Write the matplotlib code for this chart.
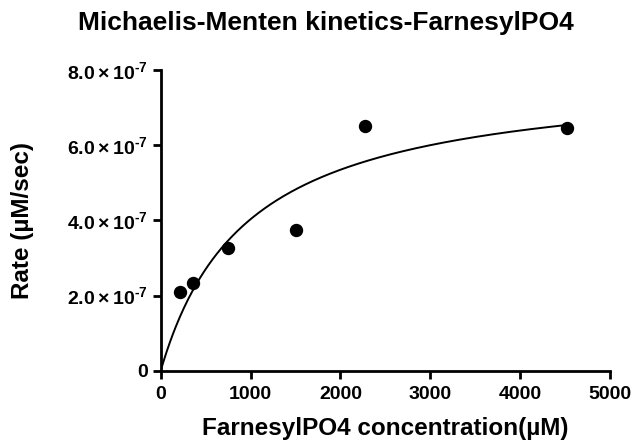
import numpy as np
import matplotlib
matplotlib.use("Agg")
import matplotlib.pyplot as plt
from matplotlib.ticker import FixedLocator, FuncFormatter

plt.rcParams['font.family'] = ['Liberation Sans', 'DejaVu Sans']
plt.rcParams['font.weight'] = 'bold'
plt.rcParams['mathtext.fontset'] = 'custom'
plt.rcParams['mathtext.rm'] = 'Liberation Sans:bold'
plt.rcParams['mathtext.it'] = 'Liberation Sans:bold'
plt.rcParams['mathtext.bf'] = 'Liberation Sans:bold'

# measured points
conc = [215, 363, 745, 1502, 2273, 4525]
rate = [2.085e-7, 2.34e-7, 3.255e-7, 3.74e-7, 6.5e-7, 6.455e-7]

# fitted Michaelis-Menten parameters
VMAX = 7.94e-7
KM = 970.0

xticks = [0, 1000, 2000, 3000, 4000, 5000]
yticks = [0, 2e-7, 4e-7, 6e-7, 8e-7]


def ylab(v, pos):
    if v == 0:
        return '0'
    m = v / 1e-7
    return r'$%.1f\times10^{\text{-}7}$' % m


fig = plt.figure(figsize=(6.36, 4.42), dpi=100)
ax = fig.add_axes([0.2527, 0.1613, 0.7063, 0.6803])

xs = np.linspace(0, conc[-1], 400)
ax.plot(xs, VMAX * xs / (KM + xs), color='black', lw=1.4, zorder=2)
ax.plot(conc, rate, 'o', color='black', ms=8.6, zorder=3, clip_on=False)

ax.set_xlim(0, 5000)
ax.set_ylim(0, 8e-7)
ax.xaxis.set_major_locator(FixedLocator(xticks))
ax.yaxis.set_major_locator(FixedLocator(yticks))
ax.yaxis.set_major_formatter(FuncFormatter(ylab))

for s in ['top', 'right']:
    ax.spines[s].set_visible(False)
for s in ['left', 'bottom']:
    ax.spines[s].set_linewidth(2)
ax.tick_params(direction='out', length=6, width=2, pad=3)
ax.tick_params(axis='x', labelsize=14, pad=5)
ax.tick_params(axis='y', labelsize=14)
for lab in ax.get_xticklabels() + ax.get_yticklabels():
    lab.set_fontweight('bold')

ax.set_xlabel('FarnesylPO4 concentration(µM)', fontsize=17.5, fontweight='bold', labelpad=10)
ax.set_ylabel('Rate (µM/sec)', fontsize=17.5, fontweight='bold', labelpad=24)
fig.suptitle('Michaelis-Menten kinetics-FarnesylPO4', fontsize=19, fontweight='bold',
             x=0.513, y=0.975)

fig.savefig('out.png', dpi=100)
